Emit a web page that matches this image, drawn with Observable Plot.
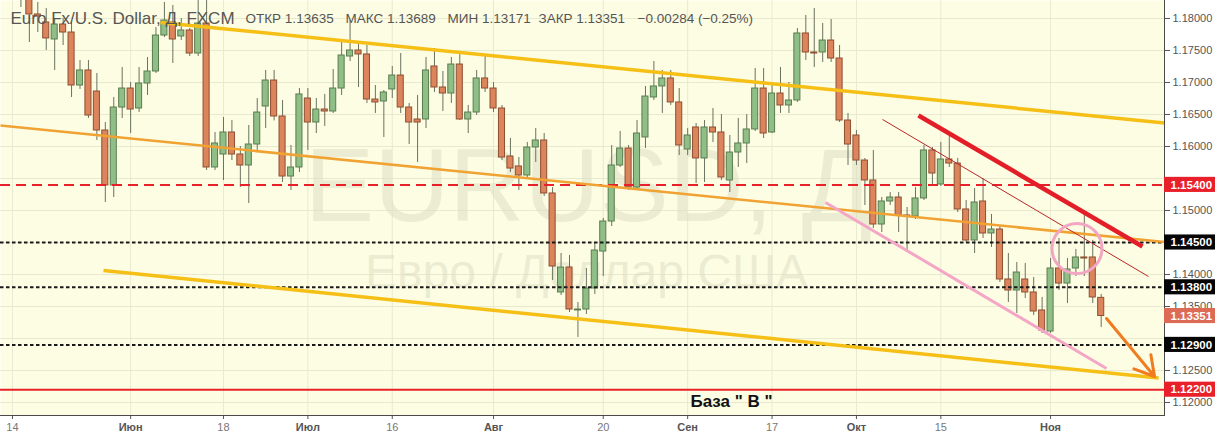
<!DOCTYPE html>
<html><head><meta charset="utf-8">
<script src="https://cdn.jsdelivr.net/npm/d3@7"></script>
<script src="https://cdn.jsdelivr.net/npm/@observablehq/plot@0.6"></script>
<style>
html,body{margin:0;padding:0;background:#fff;}
#chart{width:1215px;height:439px;overflow:hidden;}
</style>
</head><body><div id="chart"></div>
<script>
// ---- Data: daily EUR/USD (FXCM) candles, bar index 0 = 14 May 2018 ----
const opens = [1.1945,1.1925,1.1840,1.18063,1.17938,1.17672,1.17906,1.17781,1.16953,1.17188,
1.16859,1.16250,1.15391,1.16609,1.16906,1.16594,1.16984,1.17172,1.17734,1.17938,
1.17719,1.17813,1.17453,1.17922,1.15672,1.15875,1.16219,1.15875,1.15703,1.16031,
1.16625,1.17031,1.16469,1.15531,1.15672,1.16750,1.16375,1.16578,1.16547,1.16906,
1.17406,1.17500,1.17438,1.16734,1.16703,1.16891,1.17109,1.16609,1.16422,1.16422,
1.17250,1.16922,1.16828,1.17281,1.16422,1.16531,1.17063,1.16906,1.16594,1.15844,
1.15688,1.15547,1.15984,1.16094,1.15266,1.13719,1.14109,1.13438,1.13453,1.13781,
1.14359,1.14828,1.15703,1.15969,1.15359,1.16141,1.16766,1.16938,1.17063,1.16688,
1.15953,1.16297,1.15813,1.16297,1.16219,1.15469,1.15906,1.16047,1.16266,1.16906,
1.16219,1.16828,1.16641,1.16719,1.17766,1.17469,1.17469,1.17656,1.17375,1.16406,
1.16172,1.15781,1.15469,1.14781,1.15141,1.15203,1.14922,1.14906,1.15188,1.15938,
1.15406,1.15797,1.15734,1.15016,1.14531,1.15141,1.14641,1.14703,1.13922,1.13750,
1.13922,1.13719,1.13438,1.13109,1.14094,1.13859,1.14094,1.14266,1.14266,1.13635];
const highs = [1.1995,1.1935,1.1850,1.18250,1.18156,1.18000,1.18000,1.17938,1.17344,1.17344,
1.17141,1.16375,1.16766,1.17234,1.17000,1.17234,1.17391,1.17859,1.18250,1.18203,
1.18000,1.17844,1.18281,1.18520,1.16219,1.16453,1.16406,1.16000,1.16328,1.16750,
1.17188,1.17188,1.16719,1.16016,1.16906,1.16906,1.16750,1.16813,1.17203,1.17625,
1.17969,1.17625,1.17578,1.16953,1.16875,1.17250,1.17453,1.16672,1.16797,1.17391,
1.17531,1.17172,1.17391,1.17453,1.16641,1.17188,1.17422,1.17000,1.16641,1.16125,
1.15828,1.16063,1.16281,1.16203,1.15359,1.14328,1.14297,1.13563,1.14094,1.14484,
1.14875,1.16016,1.16234,1.16016,1.16406,1.16938,1.17328,1.17188,1.17188,1.16906,
1.16281,1.16359,1.16406,1.16594,1.16500,1.16172,1.16438,1.16500,1.17219,1.17219,
1.16953,1.17234,1.17000,1.17844,1.18047,1.18156,1.17922,1.17984,1.17578,1.16516,
1.16250,1.15813,1.15938,1.15203,1.15281,1.15281,1.15047,1.15359,1.16016,1.15984,
1.16063,1.16172,1.15813,1.15156,1.15344,1.15500,1.14938,1.14766,1.14328,1.14188,
1.14172,1.13953,1.13641,1.14250,1.14563,1.14250,1.14391,1.14938,1.14531,1.13689];
const lows = [1.1910,1.18172,1.17625,1.17781,1.17500,1.17188,1.17578,1.16766,1.16891,1.16438,
1.16094,1.15125,1.15203,1.16438,1.16203,1.16531,1.16797,1.17141,1.17703,1.17297,
1.17656,1.17406,1.17406,1.15625,1.15625,1.15469,1.15781,1.15359,1.15109,1.15938,
1.16281,1.16400,1.15438,1.15313,1.15594,1.15938,1.16203,1.16313,1.16516,1.16797,
1.17328,1.16922,1.16672,1.16516,1.16141,1.16750,1.16516,1.16031,1.15750,1.16281,
1.16844,1.16547,1.16672,1.16406,1.16203,1.16484,1.16844,1.16531,1.15781,1.15594,
1.15313,1.15500,1.15750,1.15219,1.13906,1.13672,1.13406,1.13016,1.13375,1.13688,
1.13969,1.14750,1.15672,1.15313,1.15313,1.15969,1.16719,1.16516,1.16641,1.15859,
1.15859,1.15422,1.15438,1.16063,1.15469,1.15281,1.15672,1.15734,1.16234,1.16125,
1.16203,1.16516,1.16516,1.16688,1.17344,1.17234,1.17313,1.17313,1.16375,1.15703,
1.15703,1.15078,1.14719,1.14656,1.15078,1.14656,1.14375,1.14859,1.15156,1.15391,
1.15375,1.15672,1.14969,1.14500,1.14328,1.14563,1.14422,1.13875,1.13563,1.13391,
1.13625,1.13359,1.13078,1.13078,1.13750,1.13547,1.13969,1.13969,1.13547,1.13171];
const closes = [1.1925,1.1835,1.18063,1.18031,1.17688,1.17906,1.17781,1.16953,1.17188,1.16484,
1.16250,1.15391,1.16609,1.16906,1.16578,1.16984,1.17172,1.17734,1.17969,1.17672,
1.17813,1.17453,1.17922,1.15672,1.16047,1.16219,1.15875,1.15703,1.16031,1.16531,
1.17031,1.16469,1.15531,1.15672,1.16813,1.16375,1.16578,1.16547,1.16906,1.17422,
1.17500,1.17438,1.16734,1.16688,1.16844,1.17109,1.16609,1.16375,1.16375,1.17188,
1.16922,1.16828,1.17281,1.16422,1.16531,1.17063,1.16906,1.16594,1.15828,1.15656,
1.15547,1.15984,1.16094,1.15266,1.14125,1.14109,1.13453,1.13453,1.13781,1.14375,
1.14828,1.15703,1.15969,1.15359,1.16203,1.16781,1.16938,1.17063,1.16688,1.16016,
1.16172,1.15813,1.16297,1.16219,1.15516,1.15906,1.16047,1.16266,1.16906,1.16203,
1.16828,1.16641,1.16719,1.17766,1.17469,1.17453,1.17656,1.17375,1.16406,1.16031,
1.15781,1.15469,1.14781,1.15141,1.15203,1.14922,1.14906,1.15188,1.15938,1.15578,
1.15797,1.15734,1.15016,1.14531,1.15125,1.14641,1.14703,1.13922,1.13750,1.14031,
1.13719,1.13422,1.13125,1.14094,1.13859,1.14078,1.14266,1.14250,1.13641,1.13351];

// x-axis ticks (bar index -> label)
const dayTickBars = [0, 25, 45, 70, 90, 110];
const dayTickLabels = ["14", "18", "16", "20", "17", "15"];
const monthTickBars = [14, 35, 57, 80, 100, 123];
const monthTickLabels = ["Июн", "Июл", "Авг", "Сен", "Окт", "Ноя"];
// y-axis ticks (grid) and the labelled ones not hidden by price boxes
const priceTicks = [1.120,1.125,1.130,1.135,1.140,1.145,1.150,1.155,1.160,1.165,1.170,1.175,1.180];
const priceLabelTicks = [1.120,1.125,1.135,1.140,1.150,1.160,1.165,1.170,1.175,1.180];

// horizontal levels
const dottedLevels = [1.145, 1.138, 1.129];
const dashedLevel = [1.154];
const solidLevel = [1.122];
const lastPrice = 1.13351;

// hand-drawn trend lines [bar1, price1, bar2, price2]
const upperChannel = [17.54, 1.17938, 136.5, 1.16367];
const middleChannel = [-1.42, 1.16328, 136.5, 1.14508];
const lowerChannel = [10.78, 1.14063, 135.8, 1.12383];
const redTrendThick = [107.35, 1.16484, 133.89, 1.14438];
const redTrendThin = [103.09, 1.16422, 134.6, 1.13969];
const pinkTrend = [96.33, 1.15125, 129.63, 1.12531];
const targetArrow = [129.63, 1.13313, 135.32, 1.12406];
const circleMark = [126.13, 1.14406];
const baseLabel = [85.2, 1.12016, "База \" В \""];

const headerTitle = "Euro Fx/U.S. Dollar, Д, FXCM";
const headerItems = ["ОТКР 1.13635", "МАКС 1.13689", "МИН 1.13171", "ЗАКР 1.13351", "−0.00284 (−0.25%)"];
const watermark1 = "EURUSD, Д";
const watermark2 = "Евро / Доллар США";

// ---- build ----
const candles = opens.map((o, i) => ({i, o, h: highs[i], l: lows[i], c: closes[i]}));
const seg = a => [{x1: a[0], y1: a[1], x2: a[2], y2: a[3]}];
const xDomain = [-1.42, 136.5];
const yDomain = [1.117969, 1.182813];
const dayMap = new Map(dayTickBars.map((b, k) => [b, dayTickLabels[k]]));
const monMap = new Map(monthTickBars.map((b, k) => [b, monthTickLabels[k]]));

const GREEN = "#8fbe87", GREEN_S = "#5a7d4f", ORANGE = "#dc845c", ORANGE_S = "#8e4f31";
const boxes = [
  {v: dashedLevel[0], bg: "#e8202a"},
  {v: dottedLevels[0], bg: "#050505"},
  {v: dottedLevels[1], bg: "#050505"},
  {v: lastPrice, bg: "#dc6a55"},
  {v: dottedLevels[2], bg: "#050505"},
  {v: solidLevel[0], bg: "#e8202a"}
];
const boxHalf = 0.00118;
const headerX = [245, 345, 447, 538, 637];

const chart = Plot.plot({
  width: 1215, height: 439,
  marginLeft: 0, marginRight: 51, marginTop: 0, marginBottom: 24,
  x: {domain: xDomain, axis: null},
  y: {domain: yDomain, axis: null},
  color: {type: "identity"},
  style: {background: "#ffffff", fontFamily: "'Liberation Sans', Arial, sans-serif"},
  marks: [
    Plot.frame({fill: "#fdfde3", stroke: "none"}),
    Plot.gridY(priceTicks, {stroke: "#e8ead0", strokeOpacity: 1}),
    Plot.gridX([...dayTickBars, ...monthTickBars], {stroke: "#e8ead0", strokeOpacity: 1}),
    Plot.text([watermark1], {frameAnchor: "middle", dx: 6, dy: -20, fontSize: 104, fill: "#dcdec4", fillOpacity: 0.55, text: d => d}),
    Plot.text([watermark2], {frameAnchor: "middle", dx: 4, dy: 65, fontSize: 48, fill: "#dcdec4", fillOpacity: 0.55, text: d => d}),
    // candles
    Plot.ruleX(candles, {x: "i", y1: "l", y2: "h", stroke: "#6a7260", strokeWidth: 1, clip: true}),
    Plot.rect(candles, {x1: d => d.i - 0.36, x2: d => d.i + 0.36, y1: "o", y2: "c",
      fill: d => d.c >= d.o ? GREEN : ORANGE, stroke: d => d.c >= d.o ? GREEN_S : ORANGE_S, strokeWidth: 1, clip: true}),
    // levels
    Plot.ruleY(dashedLevel, {stroke: "#e8202a", strokeWidth: 2, strokeDasharray: "10,6"}),
    Plot.ruleY(dottedLevels, {stroke: "#1a1a1a", strokeWidth: 2, strokeDasharray: "3.5,2.5"}),
    Plot.ruleY(solidLevel, {stroke: "#e8202a", strokeWidth: 2}),
    // trend lines
    Plot.link(seg(middleChannel), {x1: "x1", y1: "y1", x2: "x2", y2: "y2", stroke: "#f0a232", strokeWidth: 2.5}),
    Plot.link(seg(upperChannel), {x1: "x1", y1: "y1", x2: "x2", y2: "y2", stroke: "#f6bf16", strokeWidth: 3.5}),
    Plot.link(seg(lowerChannel), {x1: "x1", y1: "y1", x2: "x2", y2: "y2", stroke: "#f6bf16", strokeWidth: 3.5}),
    Plot.link(seg(pinkTrend), {x1: "x1", y1: "y1", x2: "x2", y2: "y2", stroke: "#f4a6c6", strokeWidth: 3}),
    Plot.link(seg(redTrendThin), {x1: "x1", y1: "y1", x2: "x2", y2: "y2", stroke: "#b8262a", strokeWidth: 1}),
    Plot.link(seg(redTrendThick), {x1: "x1", y1: "y1", x2: "x2", y2: "y2", stroke: "#e41e28", strokeWidth: 4.5}),
    Plot.dot([circleMark], {x: d => d[0], y: d => d[1], r: 25, stroke: "#f2a6c4", strokeWidth: 3, fill: "none"}),
    Plot.arrow(seg(targetArrow), {x1: "x1", y1: "y1", x2: "x2", y2: "y2", stroke: "#f07c22", strokeWidth: 3, headLength: 11}),
    Plot.text([baseLabel], {x: d => d[0], y: d => d[1], text: d => d[2], fontSize: 17, fontWeight: "bold", fill: "#111"}),
    // header
    Plot.text([headerTitle], {frameAnchor: "top-left", dx: 10, dy: 18, lineAnchor: "middle", textAnchor: "start", fontSize: 17, fill: "#555", text: d => d}),
    ...headerItems.map((t, k) => Plot.text([t], {frameAnchor: "top-left", dx: headerX[k], dy: 18, lineAnchor: "middle", textAnchor: "start", fontSize: 13.5, fill: "#555", text: d => d})),
    // axes
    Plot.axisY(priceLabelTicks, {anchor: "right", tickFormat: d => d.toFixed(5), tickSize: 5, tickPadding: 3, fontSize: 11, fill: "#555", stroke: "#555"}),
    Plot.axisX(dayTickBars, {anchor: "bottom", tickFormat: d => dayMap.get(d), tickSize: 4, tickPadding: 4, fontSize: 11, fill: "#777", stroke: "#555"}),
    Plot.axisX(monthTickBars, {anchor: "bottom", tickFormat: d => monMap.get(d), tickSize: 4, tickPadding: 4, fontSize: 11, fontWeight: "bold", fill: "#555", stroke: "#555"}),
    Plot.frame({anchor: "right", stroke: "#4a4a4a"}),
    Plot.frame({anchor: "bottom", stroke: "#4a4a4a"}),
    // price label boxes
    Plot.rect(boxes, {x1: () => xDomain[1], x2: () => xDomain[1], y1: d => d.v + boxHalf, y2: d => d.v - boxHalf, insetRight: -51, fill: "bg"}),
    Plot.text(boxes, {x: () => xDomain[1], y: "v", text: d => d.v.toFixed(5), dx: 6, textAnchor: "start", fontSize: 11.5, fontWeight: "bold", fill: "#ffffff"})
  ]
});
document.getElementById("chart").appendChild(chart);
</script>
</body></html>
